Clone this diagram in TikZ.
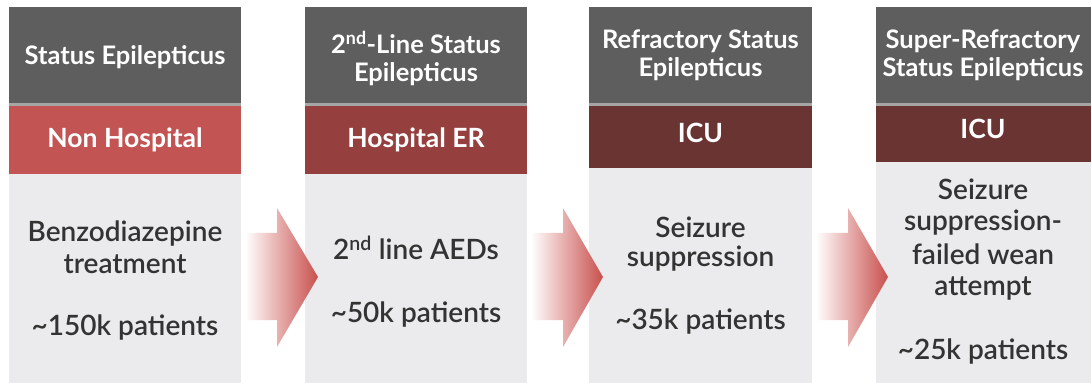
\documentclass[tikz,border=0pt]{standalone}
\usepackage{fontspec}
\setmainfont{Lato}
\newfontfamily\semifont{Lato Semibold}
\usepackage{tikz}

\begin{document}
\begin{tikzpicture}[x=1pt,y=1pt]
\definecolor{fillColor}{RGB}{255,255,255}
\definecolor{headColor}{RGB}{94,94,94}
\definecolor{sepColor}{RGB}{165,165,165}
\definecolor{bandOne}{RGB}{194,85,83}
\definecolor{bandTwo}{RGB}{149,63,63}
\definecolor{bandThree}{RGB}{106,52,51}
\definecolor{bodyColor}{RGB}{235,235,237}
\definecolor{textColor}{RGB}{51,51,51}
\definecolor{arrowColor}{RGB}{200,80,77}
\tikzset{
  headtext/.style={text=white,anchor=base,inner sep=0pt,outer sep=0pt,font=\bfseries\fontsize{25.5}{29}\selectfont},
  bandtext/.style={text=white,anchor=base,inner sep=0pt,outer sep=0pt,font=\bfseries\fontsize{26.5}{30}\selectfont},
  bodytext/.style={text=textColor,anchor=base,inner sep=0pt,outer sep=0pt,font=\semifont\fontsize{28}{32}\selectfont},
  chevron/.style={left color=white,middle color=arrowColor!7,right color=arrowColor}
}
\path[use as bounding box,fill=fillColor] (0,0) rectangle (1092,383);

% column backgrounds
\path[fill=headColor] (  9.00,280.00) rectangle (241.00,376.00);
\path[fill=sepColor] (  9.00,277.00) rectangle (241.00,280.00);
\path[fill=bandOne] (  9.00,209.00) rectangle (241.00,277.00);
\path[fill=bodyColor] (  9.00,  0.00) rectangle (241.00,209.00);

\path[fill=headColor] (305.00,280.00) rectangle (527.00,376.00);
\path[fill=sepColor] (305.00,277.00) rectangle (527.00,280.00);
\path[fill=bandTwo] (305.00,209.00) rectangle (527.00,277.00);
\path[fill=bodyColor] (305.00,  0.00) rectangle (527.00,209.00);

\path[fill=headColor] (589.00,280.00) rectangle (812.00,376.00);
\path[fill=sepColor] (589.00,277.00) rectangle (812.00,280.00);
\path[fill=bandThree] (589.00,215.00) rectangle (812.00,277.00);
\path[fill=bodyColor] (589.00,  0.00) rectangle (812.00,215.00);

\path[fill=headColor] (876.00,280.00) rectangle (1091.00,376.00);
\path[fill=sepColor] (876.00,277.00) rectangle (1091.00,280.00);
\path[fill=bandThree] (876.00,221.00) rectangle (1091.00,277.00);
\path[fill=bodyColor] (876.00,  0.00) rectangle (1091.00,221.00);

% chevrons
\path[chevron] (245.00,150.00) -- (277.00,150.00) -- (277.00,175.00) -- (318.00,106.00)
  -- (277.00, 36.00) -- (277.00, 63.00) -- (245.00, 63.00) -- cycle;
\path[chevron] (531.00,150.00) -- (563.00,150.00) -- (563.00,175.00) -- (603.00,106.00)
  -- (563.00, 36.00) -- (563.00, 63.00) -- (531.00, 63.00) -- cycle;
\path[chevron] (816.00,150.00) -- (848.00,150.00) -- (848.00,175.00) -- (888.00,106.00)
  -- (848.00, 36.00) -- (848.00, 63.00) -- (816.00, 63.00) -- cycle;

% headers
\node[headtext] (headA) at (125.00,318.00) {Status Epilepticus};
\node[headtext] (headBa) at (416.00,329.00) {2\textsuperscript{nd}-Line Status};
\node[headtext] (headBb) at (416.00,301.00) {Epilepticus};
\node[headtext] (headCa) at (700.50,334.00) {Refractory Status};
\node[headtext] (headCb) at (700.50,306.00) {Epilepticus};
\node[headtext] (headDa) at (983.00,334.00) {Super-Refractory};
\node[headtext] (headDb) at (983.00,306.00) {Status Epilepticus};

% settings
\node[bandtext] (bandA) at (125.00,235.00) {Non Hospital};
\node[bandtext] (bandB) at (416.00,235.00) {Hospital ER};
\node[bandtext] (bandC) at (700.50,240.00) {ICU};
\node[bandtext] (bandD) at (983.00,244.00) {ICU};

% treatments and patients
\node[bodytext] (bodyAa) at (125.00,141.00) {Benzodiazepine};
\node[bodytext] (bodyAb) at (125.00,110.00) {treatment};
\node[bodytext] (countA) at (125.00, 48.00) {\textasciitilde150k patients};

\node[bodytext] (bodyB) at (416.00,123.00) {2\textsuperscript{nd} line AEDs};
\node[bodytext] (countB) at (416.00, 61.00) {\textasciitilde50k patients};

\node[bodytext] (bodyCa) at (700.50,145.00) {Seizure};
\node[bodytext] (bodyCb) at (700.50,116.00) {suppression};
\node[bodytext] (countC) at (700.50, 53.00) {\textasciitilde35k patients};

\node[bodytext] (bodyDa) at (983.00,183.00) {Seizure};
\node[bodytext] (bodyDb) at (983.00,152.00) {suppression-};
\node[bodytext] (bodyDc) at (983.00,118.00) {failed wean};
\node[bodytext] (bodyDd) at (983.00, 87.00) {attempt};
\node[bodytext] (countD) at (983.00, 24.00) {\textasciitilde25k patients};
\end{tikzpicture}
\end{document}
